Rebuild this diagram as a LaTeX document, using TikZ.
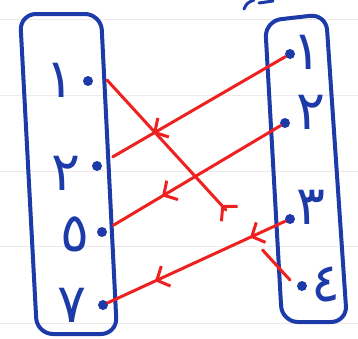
\documentclass[tikz,border=0pt]{standalone}
\usepackage{fontspec}
\newfontfamily\arabicfont[Script=Arabic]{DejaVu Sans}
\usetikzlibrary{arrows.meta,calc}
\definecolor{inkblue}{RGB}{28,58,168}
\definecolor{inkred}{RGB}{238,32,32}
\definecolor{rulecol}{RGB}{238,232,234}
\begin{document}
\begin{tikzpicture}[x=1pt,y=-1pt,
  setbox/.style={draw=inkblue,line width=4pt,rounded corners=16pt},
  pt/.style={circle,fill=inkblue,inner sep=0pt,minimum size=10pt},
  lbl/.style={text=inkblue,font=\arabicfont\fontsize{54}{54}\selectfont,inner sep=0pt},
  link/.style={draw=inkred,line width=3pt,line cap=round},
  barb/.style={draw=inkred,line width=3pt,line cap=round,-{Straight Barb[length=10pt,width=22pt]}},
  paperrule/.style={draw=rulecol,line width=0.8pt}]
\useasboundingbox (0,0) rectangle (358,338);
% notebook rules
\foreach \yy in {19,95,171,246,323} \draw[paperrule] (0,\yy) -- (358,\yy);
% sets
\draw[setbox] (20,14) -- (101,14) -- (117,334) -- (37,334) -- cycle;
\draw[setbox] (265,21) -- (326,14) -- (347,322) -- (282,322) -- cycle;
% partial stroke at top
\draw[inkblue,line width=3pt,line cap=round] (244,9) .. controls (247,3) .. (254,0);
\draw[inkblue,line width=3pt,line cap=round] (259,3) -- (273,1);
% left points
\node[pt] (l1) at (88,81) {};
\node[pt] (l2) at (97,166) {};
\node[pt] (l5) at (102,232) {};
\node[pt] (l7) at (103,305) {};
\node[lbl] (t1) at (60,80) {١};
\node[lbl] (t2) at (66,173) {٢};
\node[lbl] (t5) at (75,234) {٥};
\node[lbl] (t7) at (72,305) {٧};
% right points
\node[pt] (r1) at (290,54) {};
\node[pt] (r2) at (285,123) {};
\node[pt] (r3) at (290,219) {};
\node[pt] (r4) at (302,286) {};
\node[lbl] (u1) at (307,52) {١};
\node[lbl] (u2) at (311,112) {٢};
\node[lbl] (u3) at (311,207) {٣};
\node[lbl] (u4) at (326,284) {٤};
% connectors
\draw[link,shorten >=13pt] (r1) -- (l2);
\draw[barb] ($(r1)!0.69!(l2)$) -- ($(r1)!0.71!(l2)$);
\draw[link,shorten >=8pt] (r2) -- (l5);
\draw[barb] ($(r2)!0.65!(l5)$) -- ($(r2)!0.672!(l5)$);
\draw[link] (r3) -- (l7);
\draw[barb] ($(r3)!0.70!(l7)$) -- ($(r3)!0.722!(l7)$);
\draw[barb] ($(r3)!0.19!(l7)$) -- ($(r3)!0.214!(l7)$);
\coordinate (a4) at ([shift={(19,-1)}]l1.center);
\coordinate (b4) at ([shift={(-12,-6)}]r4.center);
\draw[link] (a4) -- ($(a4)!0.63!(b4)$) ($(a4)!0.85!(b4)$) -- (b4);
\draw[barb] ($(a4)!0.65!(b4)$) -- ($(a4)!0.625!(b4)$);
\end{tikzpicture}
\end{document}
